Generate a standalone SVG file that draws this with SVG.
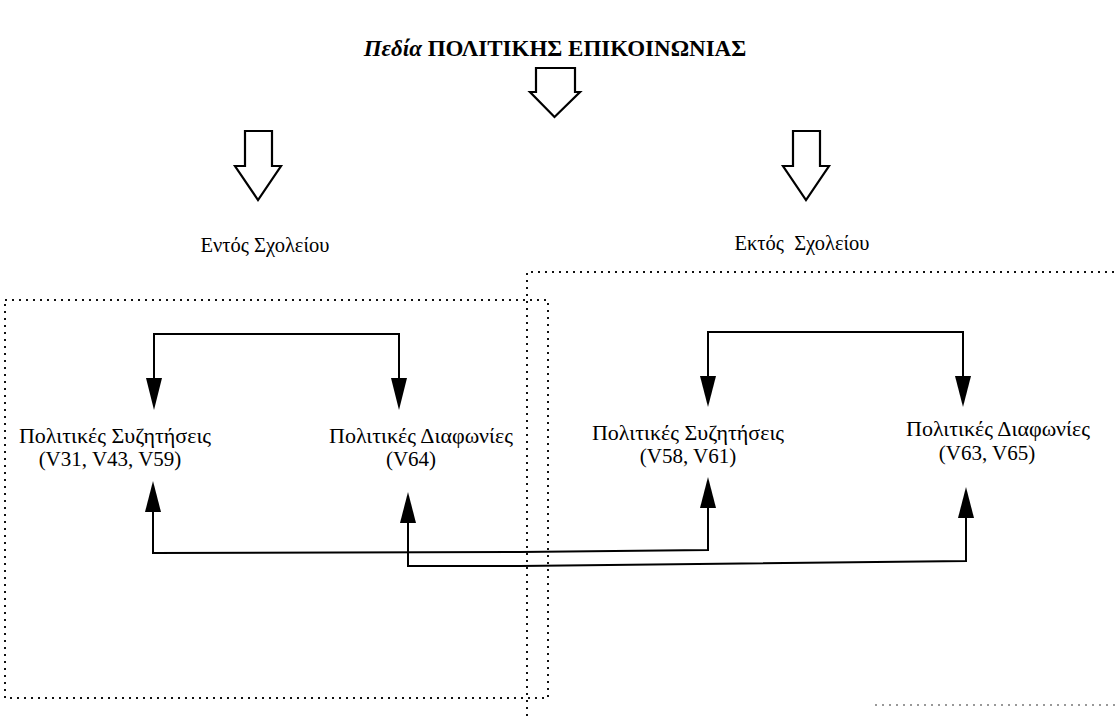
<svg xmlns="http://www.w3.org/2000/svg" width="1119" height="716" viewBox="0 0 1119 716">
<style>
.t{font-family:"Liberation Serif","DejaVu Serif",serif;fill:#000;}
.gr{font-size:22px;}
.vn{font-size:21px;}
.hdr{font-size:20.5px;}
.title{font-size:23px;font-weight:bold;}
.dot{fill:none;stroke:#111;stroke-width:2;stroke-dasharray:2 5;}
.blk{fill:#fff;stroke:#000;stroke-width:2.2;stroke-linejoin:miter;}
.ln{fill:none;stroke:#000;stroke-width:2;}
.hd{fill:#000;stroke:none;}
</style>
<rect width="1119" height="716" fill="#fff"/>

<g id="title">
<text class="t title" x="555" y="56" text-anchor="middle"><tspan font-style="italic">Πεδία</tspan> ΠΟΛΙΤΙΚΗΣ ΕΠΙΚΟΙΝΩΝΙΑΣ</text>
<polygon class="blk" points="536,68 575,68 575,92 580,92 554.5,117 530,92 536,92"/>
</g>

<g id="inside">
<polygon class="blk" points="245,131 272,131 272,166 281,166 258,200 235,166 245,166"/>
<text class="t hdr" x="265" y="252" text-anchor="middle">Εντός Σχολείου</text>
<path class="dot" d="M5,300 H548 V698 H5 Z"/>
</g>

<g id="outside">
<polygon class="blk" points="793,131 820,131 820,166 829,166 806,200 783,166 793,166"/>
<text class="t hdr" x="802" y="250" text-anchor="middle" xml:space="preserve">Εκτός  Σχολείου</text>
<path class="dot" d="M527,716 V272 H1119"/>
<path class="dot" d="M875,705 H1119" style="stroke:#999"/>
</g>

<g id="in-discussions">
<text class="t gr" x="115" y="443" text-anchor="middle">Πολιτικές Συζητήσεις</text>
<text class="t vn" x="110" y="466" text-anchor="middle">(V31, V43, V59)</text>
</g>
<g id="in-disagreements">
<text class="t gr" x="421" y="443" text-anchor="middle">Πολιτικές Διαφωνίες</text>
<text class="t vn" x="411" y="466" text-anchor="middle">(V64)</text>
</g>
<g id="out-discussions">
<text class="t gr" x="688" y="440" text-anchor="middle">Πολιτικές Συζητήσεις</text>
<text class="t vn" x="688" y="463" text-anchor="middle">(V58, V61)</text>
</g>
<g id="out-disagreements">
<text class="t gr" x="998" y="436" text-anchor="middle">Πολιτικές Διαφωνίες</text>
<text class="t vn" x="987" y="460" text-anchor="middle">(V63, V65)</text>
</g>

<g id="connectors">
<path class="ln" d="M154,380 V334 H399 V380"/>
<polygon class="hd" points="146,378 162,378 154,410"/>
<polygon class="hd" points="391,378 407,378 399,410"/>

<path class="ln" d="M708,378 V332 H963 V378"/>
<polygon class="hd" points="700,376 716,376 708,407"/>
<polygon class="hd" points="955,376 971,376 963,407"/>

<path class="ln" d="M153,510 V553 L520,552 L708,550 V506"/>
<polygon class="hd" points="145,512 161,512 153,481"/>
<polygon class="hd" points="700,508 716,508 708,477"/>

<path class="ln" d="M408,520 V566 L520,566 L966,561 V516"/>
<polygon class="hd" points="400,523 416,523 408,492"/>
<polygon class="hd" points="958,518 974,518 966,487"/>
</g>
</svg>
